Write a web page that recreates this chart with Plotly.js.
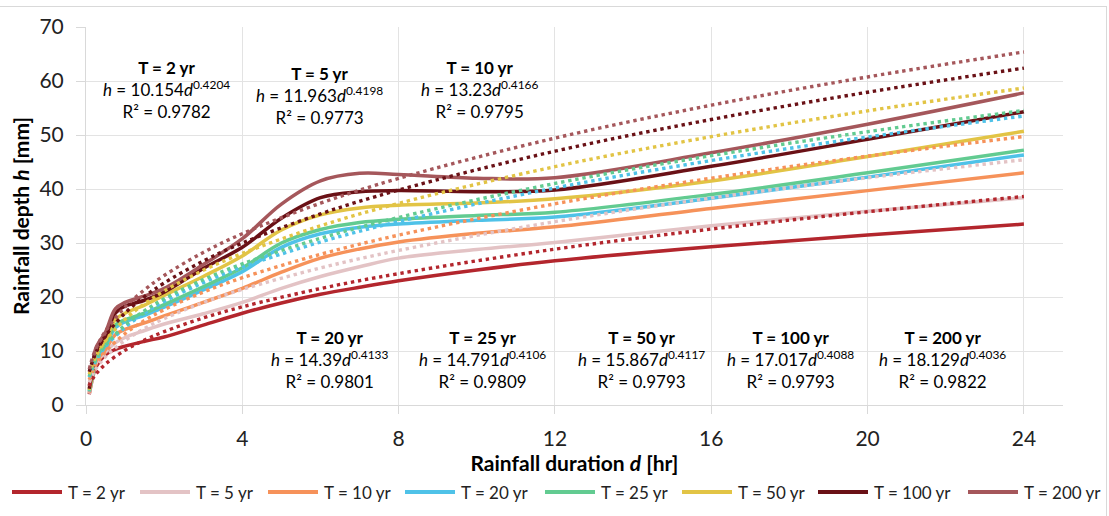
<!DOCTYPE html>
<html>
<head>
<meta charset="utf-8">
<script src="https://cdn.plot.ly/plotly-3.0.1.min.js"></script>
<style>
  html,body{margin:0;padding:0;background:#fff;}
  #wrap{position:relative;width:1109px;height:516px;overflow:hidden;}
  #chart{width:1109px;height:516px;}
  #frame{position:absolute;left:-1px;top:6px;width:1106px;height:520px;border:1px solid #d9d9d9;pointer-events:none;}
</style>
</head>
<body>
<div id="wrap"><div id="chart"></div><div id="frame"></div></div>
<script>
// ---- data ----
var seriesNames = ["T = 2 yr","T = 5 yr","T = 10 yr","T = 20 yr","T = 25 yr","T = 50 yr","T = 100 yr","T = 200 yr"];
var duration = [0.083,0.167,0.25,0.5,0.75,1,1.5,2,3,4,5,6,7,8,10,12,16,20,24];
var depthT2   = [2.0,5.0,7.0,9.3,10.3,10.9,11.8,12.6,14.8,17.0,18.9,20.5,21.8,23.0,25.0,26.7,29.3,31.5,33.5];
var depthT5   = [2.1,5.0,7.6,9.8,11.5,12.5,13.8,15.0,16.9,19.0,21.6,23.8,25.6,27.2,28.8,30.1,33.2,35.9,38.4];
var depthT10  = [2.3,5.2,8.0,10.3,13.0,14.0,15.2,16.5,19.0,21.6,24.6,27.2,28.9,30.2,31.8,33.0,36.4,39.7,43.0];
var depthT20  = [2.5,5.5,8.8,11.0,14.3,15.4,16.6,18.1,21.3,24.7,29.2,31.7,32.9,33.5,34.2,34.8,38.3,42.2,46.3];
var depthT25  = [2.6,5.6,9.0,11.3,14.8,15.8,17.0,18.6,21.9,25.4,30.0,32.5,33.8,34.4,35.1,35.7,39.0,43.0,47.2];
var depthT50  = [2.8,6.0,9.5,12.0,15.8,17.0,18.5,20.3,23.8,27.6,32.4,35.2,36.5,37.0,37.4,38.2,41.5,46.0,50.7];
var depthT100 = [3.0,6.5,10.0,12.8,17.0,18.3,19.4,20.9,25.3,29.2,34.6,38.4,39.5,39.7,39.5,39.8,44.2,49.2,54.3];
var depthT200 = [3.5,7.0,10.5,13.5,17.8,19.0,20.2,21.6,26.0,30.8,37.2,41.5,42.9,42.7,42.0,42.1,46.7,52.0,57.8];

// power trendline values (dotted lines), read at these durations
var trendDuration = [0.083,0.167,0.25,0.5,1,1.5,2,3,4,6,8,12,16,20,24];
var trendT2   = [3.57,4.78,5.67,7.59,10.15,12.04,13.59,16.12,18.18,21.57,24.33,28.86,32.58,35.78,38.62];
var trendT5   = [4.21,5.64,6.69,8.94,11.96,14.18,16.00,18.97,21.40,25.38,28.63,33.95,38.32,42.08,45.42];
var trendT10  = [4.70,6.27,7.43,9.91,13.23,15.66,17.66,20.91,23.57,27.91,31.46,37.26,42.00,46.09,49.72];
var trendT20  = [5.15,6.86,8.11,10.81,14.39,17.01,19.16,22.66,25.52,30.18,33.98,40.19,45.27,49.64,53.52];
var trendT25  = [5.33,7.09,8.37,11.13,14.79,17.47,19.66,23.22,26.13,30.87,34.73,41.03,46.18,50.61,54.54];
var trendT50  = [5.70,7.59,8.97,11.93,15.87,18.75,21.11,24.94,28.07,33.18,37.34,44.14,49.69,54.47,58.71];
var trendT100 = [6.16,8.18,9.66,12.82,17.02,20.08,22.59,26.66,29.99,35.40,39.81,47.00,52.87,57.92,62.39];
var trendT200 = [6.65,8.79,10.36,13.71,18.13,21.35,23.98,28.25,31.72,37.37,41.96,49.42,55.52,60.75,65.38];

var eqTitles = ["T = 2 yr","T = 5 yr","T = 10 yr","T = 20 yr","T = 25 yr","T = 50 yr","T = 100 yr","T = 200 yr"];
var eqCoef   = ["10.154","11.963","13.23","14.39","14.791","15.867","17.017","18.129"];
var eqExp    = ["0.4204","0.4198","0.4166","0.4133","0.4106","0.4117","0.4088","0.4036"];
var eqR2     = ["0.9782","0.9773","0.9795","0.9801","0.9809","0.9793","0.9793","0.9822"];

var xTickVals = [0,4,8,12,16,20,24];
var yTickVals = [0,10,20,30,40,50,60,70];

// ---- styling ----
var colors = ["#B3262D","#E3C3C5","#F6925A","#4FC2E8","#62CB91","#E2C445","#6A1116","#A5575B"];
var depths = [depthT2,depthT5,depthT10,depthT20,depthT25,depthT50,depthT100,depthT200];
var trends = [trendT2,trendT5,trendT10,trendT20,trendT25,trendT50,trendT100,trendT200];

var FONT = "Lato, 'Open Sans', sans-serif";
var L = 86, R = 1063, T = 27, B = 405;
function px2x(px){ return (px - L) / (R - L); }
function py2y(py){ return (B - py) / (B - T); }

var traces = [];
for (var i = 0; i < seriesNames.length; i++) {
  traces.push({
    x: duration, y: depths[i], type: "scatter", mode: "lines", name: seriesNames[i],
    line: {color: colors[i], width: 3.5, shape: "spline", smoothing: 1},
    showlegend: false, hoverinfo: "skip"
  });
}
for (var j = 0; j < seriesNames.length; j++) {
  traces.push({
    x: trendDuration, y: trends[j], type: "scatter", mode: "lines", name: seriesNames[j] + " trend",
    line: {color: colors[j], width: 3.4, shape: "spline", smoothing: 1, dash: "3.4px,3.8px"},
    showlegend: false, hoverinfo: "skip"
  });
}

// equation label positions (pixel centres)
var eqPos = [[166,90],[319,95],[479,90],[329,359],[482,359],[641,359],[790,359],[942,359]];
var annotations = [];
for (var k = 0; k < eqTitles.length; k++) {
  annotations.push({
    xref: "paper", yref: "paper", x: px2x(eqPos[k][0]), y: py2y(eqPos[k][1]),
    xanchor: "center", yanchor: "middle", showarrow: false, align: "center",
    font: {family: FONT, size: 17, color: "#000"},
    text: "<b>" + eqTitles[k] + "</b><br><i>h</i> = " + eqCoef[k] + "<i>d</i><sup>" + eqExp[k] + "</sup><br>R² = " + eqR2[k]
  });
}

// custom legend
var legLineStart = [12,140,268,405,545,682,818,968];
var legY = 492;
var shapes = [];
for (var m = 0; m < seriesNames.length; m++) {
  shapes.push({type: "line", xref: "paper", yref: "paper",
    x0: px2x(legLineStart[m]), x1: px2x(legLineStart[m] + 50), y0: py2y(legY), y1: py2y(legY),
    line: {color: colors[m], width: 4}});
  annotations.push({xref: "paper", yref: "paper", x: px2x(legLineStart[m] + 54), y: py2y(legY),
    xanchor: "left", yanchor: "middle", showarrow: false,
    font: {family: FONT, size: 17, color: "#222"}, text: seriesNames[m]});
}

var layout = {
  width: 1109, height: 516,
  margin: {l: L, r: 1109 - R, t: T, b: 516 - B, pad: 0},
  paper_bgcolor: "#fff", plot_bgcolor: "#fff",
  showlegend: false, hovermode: false,
  font: {family: FONT, color: "#222"},
  xaxis: {
    range: [0, 25], tickvals: xTickVals, ticktext: xTickVals.map(String),
    showgrid: true, gridcolor: "#e3e3e3", gridwidth: 1,
    showline: true, linecolor: "#d9d9d9", linewidth: 1,
    ticks: "outside", ticklen: 8, tickcolor: "#d9d9d9", ticklabelstandoff: 7,
    tickfont: {family: FONT, size: 21, color: "#222"}, zeroline: false,
    title: {text: "<b>Rainfall duration <i>d</i> [hr]</b>", font: {family: FONT, size: 21, color: "#000"}, standoff: 2}
  },
  yaxis: {
    range: [0, 70], tickvals: yTickVals, ticktext: yTickVals.map(String),
    showgrid: true, gridcolor: "#e3e3e3", gridwidth: 1,
    showline: true, linecolor: "#d9d9d9", linewidth: 1,
    ticks: "outside", ticklen: 9, tickcolor: "#d9d9d9", ticklabelstandoff: 8,
    tickfont: {family: FONT, size: 21, color: "#222"}, zeroline: false,
    title: {text: "<b>Rainfall depth <i>h</i> [mm]</b>", font: {family: FONT, size: 21, color: "#000"}, standoff: 4}
  },
  annotations: annotations,
  shapes: shapes
};

Plotly.newPlot("chart", traces, layout, {staticPlot: true, displayModeBar: false});
</script>
</body>
</html>
